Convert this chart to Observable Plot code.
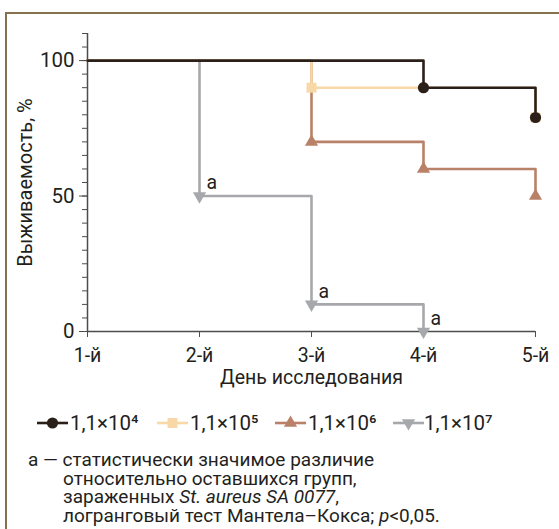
<!DOCTYPE html>
<html><head><meta charset="utf-8">
<script src="https://cdn.jsdelivr.net/npm/d3@7"></script>
<script src="https://cdn.jsdelivr.net/npm/@observablehq/plot@0.6"></script>
<style>
body{margin:0;background:#fff;font-family:Roboto,"Noto Sans",sans-serif;color:#231f20;}
#wrap{position:relative;width:559px;height:529px;overflow:hidden;}
#frame{position:absolute;left:5px;top:12px;right:0;bottom:0;border-top:2px solid #85704f;border-left:2px solid #85704f;}
#chart{position:absolute;left:0;top:0;}
#legend{position:absolute;left:0;top:412px;width:559px;height:22px;font-size:20.5px;white-space:nowrap;}
#legend svg{position:absolute;top:3px;}
#legend span{position:absolute;top:0;line-height:22px;}
#note{position:absolute;left:28px;top:451px;font-size:19px;line-height:18.7px;white-space:nowrap;}
#note .ind{padding-left:35px;}
</style></head>
<body>
<div id="wrap">
  <div id="frame"></div>
  <div id="chart"></div>
  <div id="legend"></div>
  <div id="note">
    <div>а — статистически значимое различие</div>
    <div class="ind">относительно оставшихся групп,</div>
    <div class="ind">зараженных <i>St. aureus SA 0077</i>,</div>
    <div class="ind">логранговый тест Мантела–Кокса; <i>p</i>&lt;0,05.</div>
  </div>
</div>
<script>
const days = [1, 2, 3, 4, 5];
const dayLabels = ["1-й", "2-й", "3-й", "4-й", "5-й"];
const groupNames = ["1,1×10⁴", "1,1×10⁵", "1,1×10⁶", "1,1×10⁷"];
const survival1e4 = [100, 100, 100, 90, 79];
const survival1e5 = [100, 100, 90, 90, 79];
const survival1e6 = [100, 100, 70, 60, 50];
const survival1e7 = [100, 50, 10, 0];
const sigDays = [2, 3, 4];
const sigValues = [50, 10, 0];
const sigLabel = "a";
const yTicksMajor = [0, 50, 100];

const colors = ["#2b2019", "#f9d8a8", "#b98168", "#a6a8ab"];
const symbols = ["circle", "square", "triangle", "triangle"];
const rotations = [0, 0, 0, 180];
const radii = [5.6, 5.6, 4.9, 4.9];
const seriesVals = [survival1e4, survival1e5, survival1e6, survival1e7];
const legendSwatchX = [37, 157, 275, 393];
const legendTextX = [70, 190, 308, 424];

const rows = [];
seriesVals.forEach((vals, g) => vals.forEach((v, i) => rows.push({g, day: days[i], v, drop: i > 0 && v !== vals[i - 1]})));

const order = [3, 2, 1, 0];
const marks = [
  Plot.ruleY([0], {stroke: "#4d4d4d", strokeWidth: 1.5}),
  Plot.ruleX([1], {stroke: "#4d4d4d", strokeWidth: 1.5}),
  Plot.axisY(d3.range(0, 111, 5), {tickSize: 5, tickFormat: () => "", stroke: "#4d4d4d", label: null}),
  Plot.axisY(yTicksMajor, {tickSize: 8, tickPadding: 5, fontSize: 20.5, fill: "#231f20", stroke: "#4d4d4d", label: null}),
  Plot.axisX(days, {tickSize: 6, tickPadding: 11, fontSize: 19.5, fill: "#231f20", stroke: "#4d4d4d", label: null, tickFormat: (d, i) => dayLabels[i]}),
  Plot.text(["Выживаемость, %"], {frameAnchor: "left", textAnchor: "middle", rotate: -90, dx: -62, text: d => d, fontSize: 20, fill: "#231f20"}),
  Plot.text(["День исследования"], {frameAnchor: "bottom", textAnchor: "middle", dy: 52, text: d => d, fontSize: 19.5, fill: "#231f20"})
];
for (const g of order) {
  const data = rows.filter(r => r.g === g);
  marks.push(Plot.line(data, {x: "day", y: "v", curve: "step-after", stroke: colors[g], strokeWidth: 2.6}));
}
for (const g of order) {
  const data = rows.filter(r => r.g === g && r.drop);
  marks.push(Plot.dot(data, {x: "day", y: "v", symbol: symbols[g], fill: colors[g], r: radii[g], rotate: rotations[g]}));
}
marks.push(Plot.text(sigDays.map((d, i) => ({day: d, v: sigValues[i]})), {x: "day", y: "v", text: () => sigLabel, textAnchor: "start", dx: 7, dy: -13, fontSize: 19.5, fill: "#231f20"}));

const chart = Plot.plot({
  width: 559, height: 400,
  marginTop: 33, marginBottom: 69, marginLeft: 87, marginRight: 24,
  style: {fontFamily: "Roboto, 'Noto Sans', sans-serif", background: "transparent"},
  x: {domain: [1, 5], axis: null},
  y: {domain: [0, 110], axis: null},
  marks
});
document.getElementById("chart").appendChild(chart);

// legend
const legend = d3.select("#legend");
groupNames.forEach((name, g) => {
  const svg = legend.append("svg").attr("width", 31).attr("height", 16).style("left", legendSwatchX[g] + "px");
  svg.append("line").attr("x1", 0).attr("x2", 31).attr("y1", 8).attr("y2", 8).attr("stroke", colors[g]).attr("stroke-width", 2.6);
  const symType = {circle: d3.symbolCircle, square: d3.symbolSquare, triangle: d3.symbolTriangle}[symbols[g]];
  svg.append("path").attr("d", d3.symbol(symType, radii[g] * radii[g] * Math.PI)())
    .attr("transform", `translate(15.5,8) rotate(${rotations[g]})`).attr("fill", colors[g]);
  legend.append("span").style("left", legendTextX[g] + "px").text(name);
});
</script>
</body></html>
